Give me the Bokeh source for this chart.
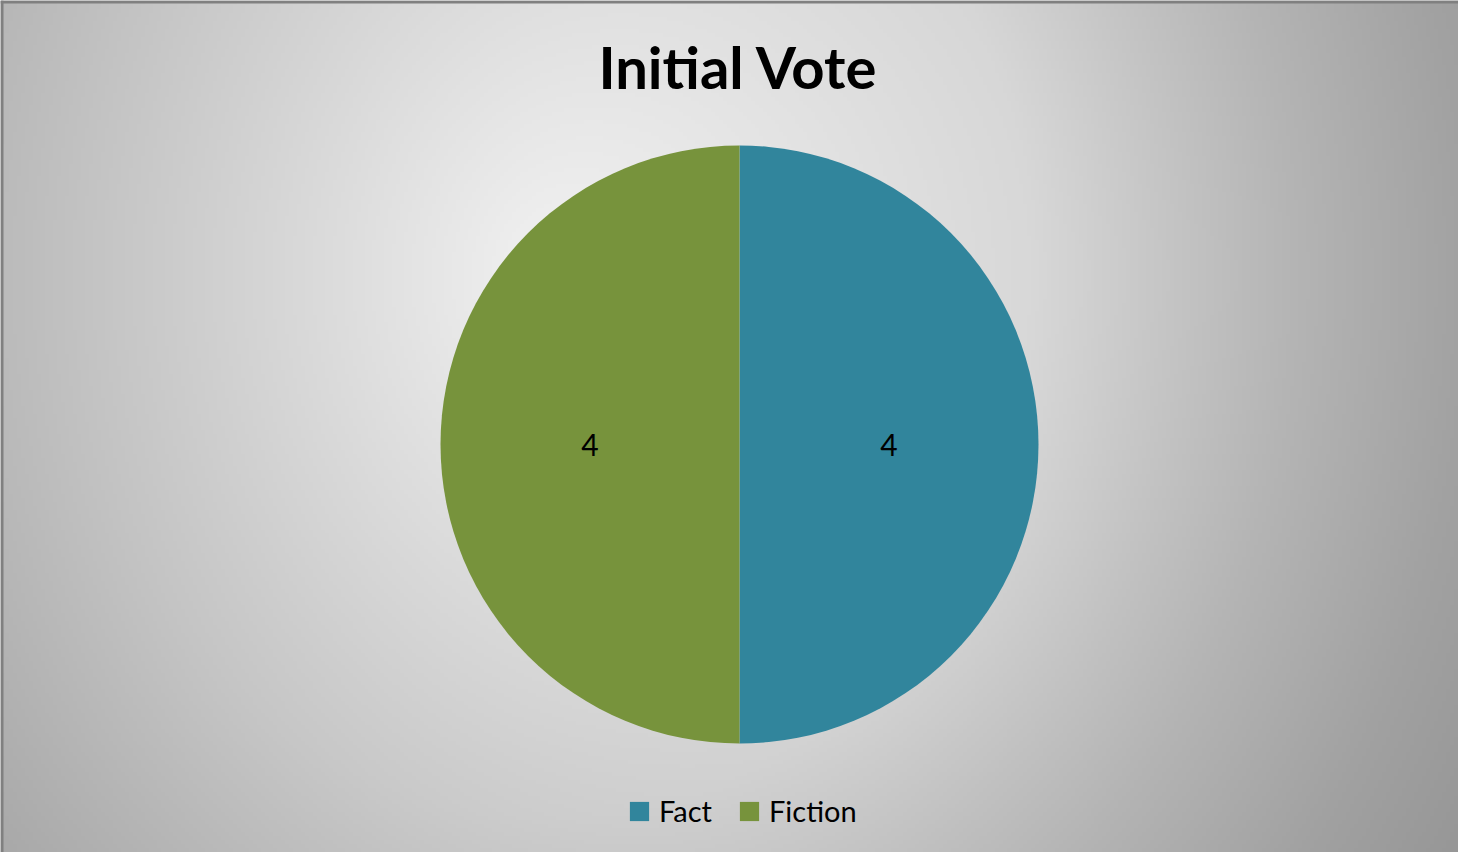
import numpy as np
from bokeh.plotting import figure
from bokeh.models import ColumnDataSource, Range1d, Legend, LegendItem, Label, Span
from bokeh.core.properties import value
from bokeh.embed import file_html
from bokeh.resources import INLINE

# ---- data ----
title_text = "Initial Vote"
categories = ["Fact", "Fiction"]
votes = [4, 4]
colors = ["#31859C", "#77933C"]

W, H = 1458, 852

p = figure(width=W, height=H, output_backend="svg", toolbar_location=None,
           x_range=Range1d(0, W), y_range=Range1d(0, H),
           x_axis_location=None, y_axis_location=None, min_border=0)
p.grid.visible = False
p.outline_line_color = None
p.border_fill_color = "#b8b8b8"
p.background_fill_color = "#d8d8d8"

# ---- radial gradient background (styling only) ----
step = 4
nx, ny = W // step + 1, H // step + 1
xs = (np.arange(nx) + 0.5) * step + 8          # page X
ys = 860 - (np.arange(ny) + 0.5) * step        # page Y (row 0 = bottom)
X, Y = np.meshgrid(xs, ys)
cx, cy = 560.0, 280.0
dx = X - cx
dy = (Y - cy) * 0.88
r = np.hypot(dx, dy) + 1e-9
d_left = 0.1 * r
d_right = np.interp(r, [0, 480, 640, 740, 914, 1100], [0, 26, 48, 61, 80, 95])
w = (1 + dx / r) / 2
bright = np.clip(242 - ((1 - w) * d_left + w * d_right), 0, 255).astype(np.uint32)
img = (255 << 24) | (bright << 16) | (bright << 8) | bright
p.image_rgba(image=[img.astype(np.uint32)], x=0, y=0, dw=W, dh=H)

# ---- pie ----
total = float(sum(votes))
fracs = [v / total for v in votes]
starts, ends = [], []
acc = 0.0
for f in fracs:
    s = np.pi / 2 - acc * 2 * np.pi
    e = s - f * 2 * np.pi
    starts.append(s)
    ends.append(e)
    acc += f
mids = [(s + e) / 2 for s, e in zip(starts, ends)]

pcx, pcy, pr = 739, 408, 299
src = ColumnDataSource(dict(cat=categories, votes=votes, color=colors,
                            start=starts, end=ends))
wr = p.wedge(x=pcx, y=pcy, radius=pr, start_angle="start", end_angle="end",
             direction="clock", fill_color="color", line_color=None, source=src)

lab_r = 0.5 * pr
lsrc = ColumnDataSource(dict(
    x=[pcx + lab_r * np.cos(m) for m in mids],
    y=[pcy + lab_r * np.sin(m) for m in mids],
    t=[str(v) for v in votes]))
p.text(x="x", y="y", text="t", source=lsrc, text_align="center",
       text_baseline="middle", text_font=value("Lato"),
       text_font_size=value("30px"), text_color="#000000")

# ---- title ----
p.add_layout(Label(x=738, y=786, text=title_text, text_align="center",
                   text_baseline="alphabetic", text_font="Lato",
                   text_font_style="bold", text_font_size="58px",
                   text_color="#000000"))

# ---- legend ----
legend = Legend(items=[LegendItem(label=c, renderers=[wr], index=i)
                       for i, c in enumerate(categories)],
                orientation="horizontal", location=(627, 24),
                glyph_width=24, glyph_height=24, label_standoff=8,
                spacing=25, padding=0, margin=0,
                border_line_color=None, background_fill_alpha=0,
                label_text_font="Lato", label_text_font_size="29px",
                label_text_color="#000000")
p.add_layout(legend, "center")

# ---- frame border (top & left) ----
p.add_layout(Span(location=H - 1.5, dimension="width", line_color="#808080", line_width=3))
p.add_layout(Span(location=1.5, dimension="height", line_color="#808080", line_width=3))

open("out.html", "w").write(file_html(p, INLINE))
